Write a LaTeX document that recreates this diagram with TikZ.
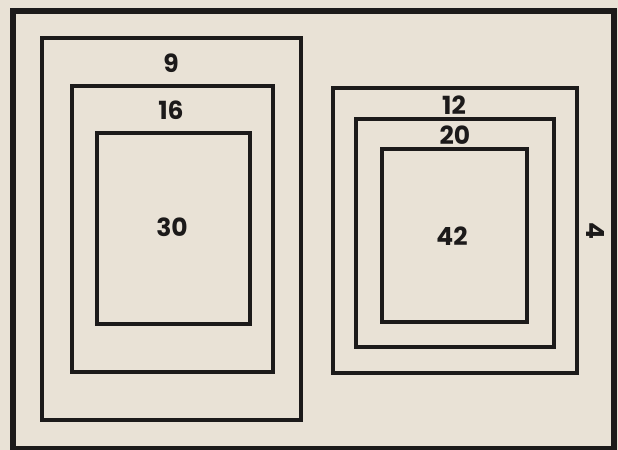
\documentclass[tikz,border=0pt]{standalone}
\usepackage{fontspec}
\setmainfont{Poppins}
\usepackage{tikz}
\usetikzlibrary{positioning,calc}
\definecolor{PaperTint}{RGB}{233,226,214}
\definecolor{InkBlack}{RGB}{28,26,26}
\tikzset{
  frame/.style ={draw=InkBlack, line width=2.4pt, line join=miter},
  num/.style   ={text=InkBlack, font=\fontsize{12.5}{14}\selectfont\bfseries, inner sep=0pt},
}

\begin{document}
\begin{tikzpicture}[x=0.5pt,y=-0.5pt]
  \fill[PaperTint] (0,0) rectangle (618,450);
  \useasboundingbox (0,0) rectangle (618,450);

  % outer border
  \draw[frame,line width=2.6pt] (13,11) rectangle (614,449);

  % left frames
  \draw[frame] (42,38) rectangle (301,420);
  \draw[frame] (72,86) rectangle (273,372);
  \draw[frame] (97,133) rectangle (250,324);
  \node[num] (nine)   at (171,63)  {9};
  \node[num] (sixteen) at (171,110) {16};
  \node[num] (thirty) at (172,227) {30};

  % right frames
  \draw[frame] (333,88) rectangle (577,373);
  \draw[frame] (356,119) rectangle (554,347);
  \draw[frame] (382,149) rectangle (527,322);
  \node[num] (twelve) at (454,105) {12};
  \node[num] (twenty) at (455,135) {20};
  \node[num] (fortytwo) at (452,236) {42};
  \node[num,rotate=-90] (four) at (596,231) {4};
\end{tikzpicture}
\end{document}
